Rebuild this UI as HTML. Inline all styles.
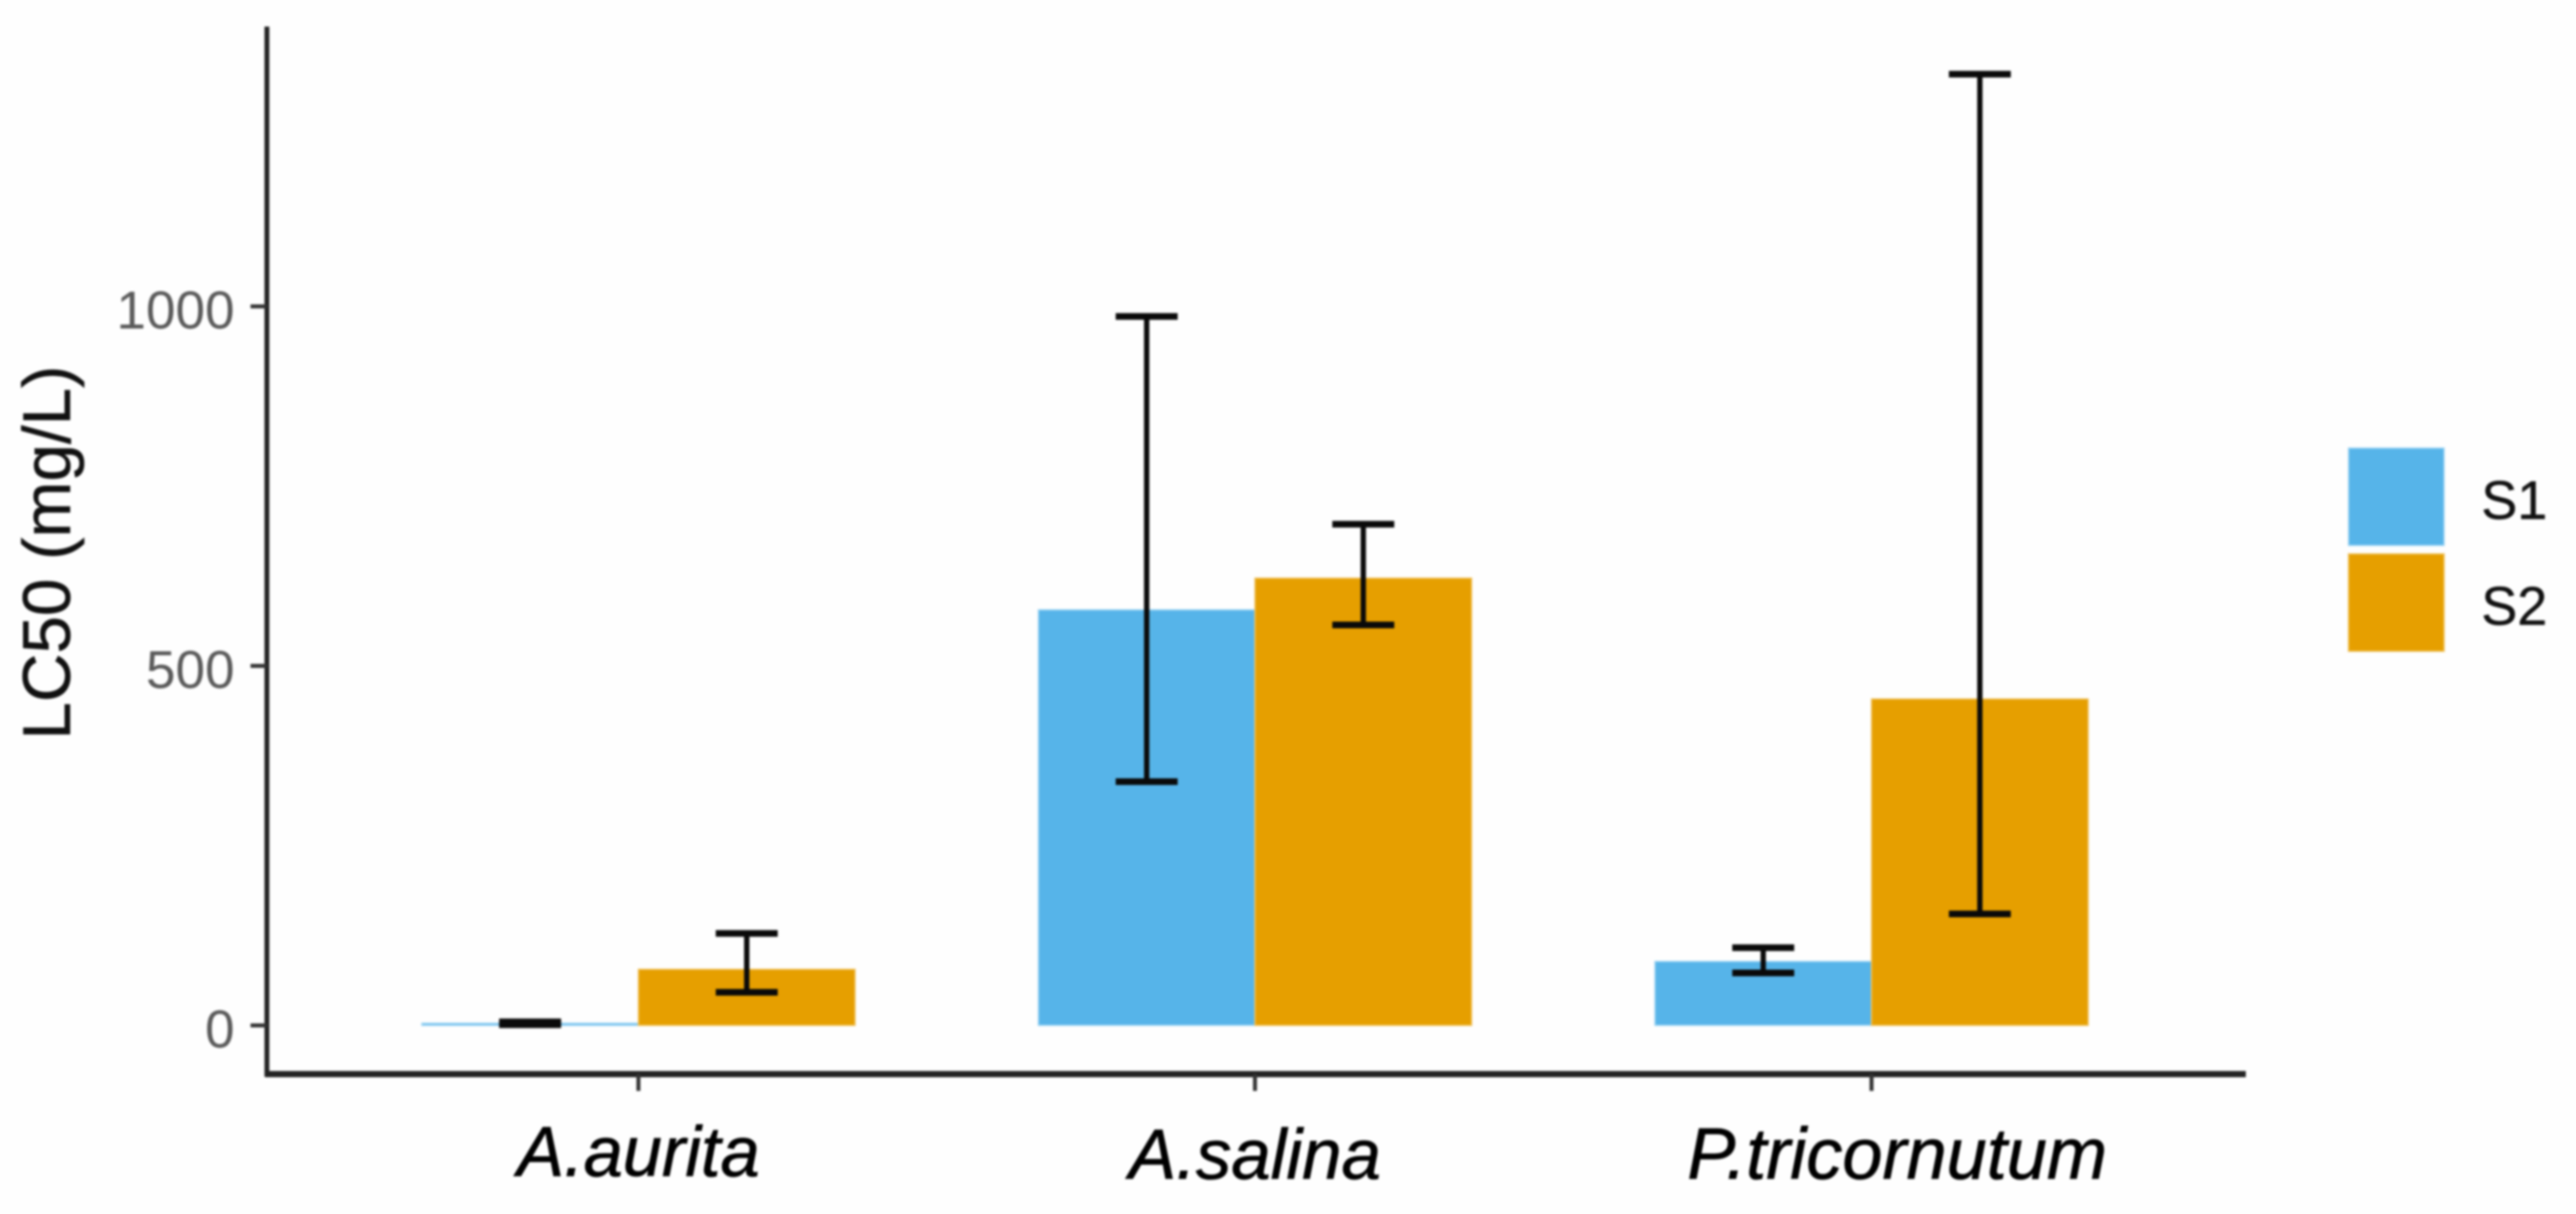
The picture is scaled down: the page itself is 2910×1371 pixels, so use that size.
<!DOCTYPE html>
<html lang="en">
<head>
<meta charset="utf-8">
<title>LC50 by species</title>
<style>
  html, body { margin: 0; padding: 0; background: #fefefe; width: 2910px; height: 1371px; overflow: hidden; }
  svg { display: block; filter: blur(1.2px); font-family: "Liberation Sans", Arial, sans-serif; }
</style>
</head>
<body>
<svg id="chart" xmlns="http://www.w3.org/2000/svg" width="2910" height="1371" viewBox="0 0 2910 1371">
  <rect x="0" y="0" width="2910" height="1371" fill="#fefefe"/>
  <g id="bars"></g>
  <g id="errors"></g>
  <g id="axes"></g>
  <text transform="translate(79,624) rotate(-90)" text-anchor="middle" font-size="76" fill="#111" stroke="#111" stroke-width="0.6">LC50 (mg/L)</text>
  <g id="legend"></g>
</svg>
<script>
const categories = ['A.aurita', 'A.salina', 'P.tricornutum'];
const seriesNames = ['S1', 'S2'];
const s1Values = [3, 578, 89];
const s2Values = [78, 622, 454];
const s1Low = [1, 339, 73];
const s1High = [5, 986, 108];
const s2Low = [46, 557, 155];
const s2High = [128, 697, 1323];
const yTickValues = [0, 500, 1000];
const yTickLabels = ['0', '500', '1000'];

const NS = 'http://www.w3.org/2000/svg';
const fillColors = ['#56b4e9', '#e69f00'];
const edgeColors = ['#a4d7f4', '#efc25f'];
const seriesValues = [s1Values, s2Values];
const seriesLow = [s1Low, s2Low];
const seriesHigh = [s1High, s2High];

const plot = { axisX: 301.5, axisRight: 2537, axisTop: 30, axisBottom: 1213 };
const yZero = 1158;
const pxPerUnit = 0.812;
const firstBandX = 721.2;
const bandStep = 696.5;
const barWidth = 244.7;
const capHalf = 35;
const labelNudge = { 'A.aurita': 0, 'A.salina': 0, 'P.tricornutum': 29 };
const labelBaseline = { 'A.aurita': 1328, 'A.salina': 1331, 'P.tricornutum': 1331 };
const labelSize = { 'A.aurita': 79.5, 'A.salina': 80, 'P.tricornutum': 81.5 };

function yScale(v) { return yZero - v * pxPerUnit; }
function xBand(i) { return firstBandX + i * bandStep; }
function xBar(i, s) { return xBand(i) + (s - 1) * barWidth; }
function xBarCenter(i, s) { return xBar(i, s) + barWidth / 2; }

function make(parent, tag, attrs, text) {
  const el = document.createElementNS(NS, tag);
  for (const k in attrs) el.setAttribute(k, attrs[k]);
  if (text !== undefined) el.textContent = text;
  parent.appendChild(el);
  return el;
}

const barsG = document.getElementById('bars');
const errorsG = document.getElementById('errors');
const axesG = document.getElementById('axes');
const legendG = document.getElementById('legend');

// Bars
seriesNames.forEach(function (name, s) {
  categories.forEach(function (cat, i) {
    const top = yScale(seriesValues[s][i]);
    const el = make(barsG, 'rect', {
      x: xBar(i, s), y: top, width: barWidth, height: yZero - top,
      fill: fillColors[s], stroke: edgeColors[s], 'stroke-width': 1.5
    });
    
    
  });
});

// Error bars
seriesNames.forEach(function (name, s) {
  categories.forEach(function (cat, i) {
    const cx = xBarCenter(i, s);
    const yHigh = yScale(seriesHigh[s][i]);
    const yLow = yScale(seriesLow[s][i]);
    const g = make(errorsG, 'g', { stroke: '#0a0a0a', fill: 'none' });
    
    
    make(g, 'line', { x1: cx, x2: cx, y1: yHigh, y2: yLow, 'stroke-width': 6 });
    make(g, 'line', { x1: cx - capHalf, x2: cx + capHalf, y1: yHigh, y2: yHigh, 'stroke-width': 7.5 });
    make(g, 'line', { x1: cx - capHalf, x2: cx + capHalf, y1: yLow, y2: yLow, 'stroke-width': 7.5 });
  });
});

// Axis lines
const yAxisLine = make(axesG, 'line', {
  x1: plot.axisX, x2: plot.axisX, y1: plot.axisTop, y2: plot.axisBottom + 3,
  stroke: '#222', 'stroke-width': 5.5
});



const xAxisLine = make(axesG, 'line', {
  x1: plot.axisX - 2, x2: plot.axisRight, y1: plot.axisBottom, y2: plot.axisBottom,
  stroke: '#222', 'stroke-width': 7
});



// Y ticks
yTickValues.forEach(function (v, i) {
  const y = yScale(v);
  const tick = make(axesG, 'line', {
    x1: 283, x2: plot.axisX, y1: y, y2: y, stroke: '#333', 'stroke-width': 4.5
  });
  
  
  const label = make(axesG, 'text', {
    x: 265, y: y + 25, 'text-anchor': 'end', 'font-size': 60, fill: '#5a5a5a'
  }, yTickLabels[i]);
  
  
});

// X ticks and labels
categories.forEach(function (cat, i) {
  const x = xBand(i);
  const tick = make(axesG, 'line', {
    x1: x, x2: x, y1: plot.axisBottom, y2: 1232, stroke: '#333', 'stroke-width': 4.5
  });
  
  
  const label = make(axesG, 'text', {
    x: x + (labelNudge[cat] || 0), y: labelBaseline[cat] || 1331,
    'text-anchor': 'middle', 'font-size': labelSize[cat] || 80, 'font-style': 'italic',
    fill: '#000', stroke: '#000', 'stroke-width': 0.8
  }, cat);
  
  
});

// Legend
seriesNames.forEach(function (name, s) {
  const top = 506 + s * 119.5;
  const entry = make(legendG, 'g', {});
  
  
  const swatch = make(entry, 'rect', {
    x: 2653, y: top, width: 108, height: 110,
    fill: fillColors[s], stroke: edgeColors[s], 'stroke-width': 1.5
  });
  
  
  const label = make(entry, 'text', {
    x: 2803, y: top + 80, 'font-size': 61, fill: '#111', stroke: '#111', 'stroke-width': 0.5
  }, name);
  
  
});
</script>
</body>
</html>
